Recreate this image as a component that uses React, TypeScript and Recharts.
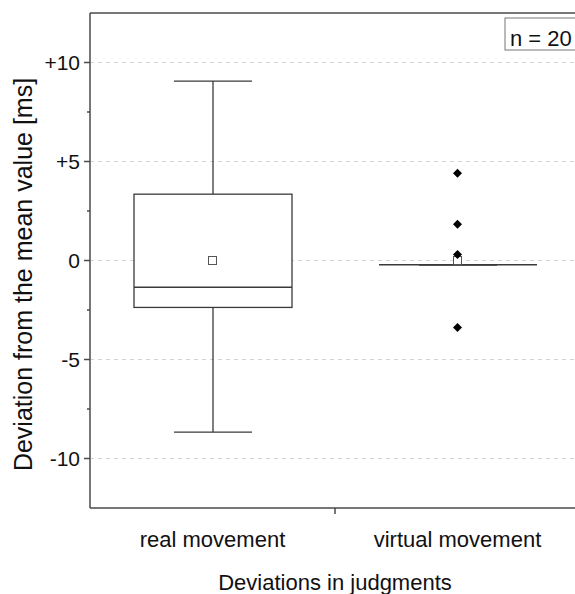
import React from 'react';
import { ComposedChart, Bar, Line, XAxis, YAxis, CartesianGrid, ReferenceLine } from 'recharts';

// Box-plot statistics per condition (deviation from the mean, ms)
const categories = ['real movement', 'virtual movement'];
const whiskerLow = [-8.67, -0.22];
const quartileLow = [-2.37, -0.22];
const medians = [-1.35, -0.22];
const quartileHigh = [3.35, -0.22];
const whiskerHigh = [9.06, -0.22];
const means = [0, 0];
const outliers: number[][] = [[], [4.41, 1.83, 0.3, -3.38]];
const yTicks = [-10, -5, 0, 5, 10];
const yMinorTicks = [-7.5, -2.5, 2.5, 7.5];
const yDomain = [-12.5, 12.5];
const sampleSize = 20;

const maxOutliers = Math.max(...outliers.map((o) => o.length));
const outlierKeys = Array.from({ length: maxOutliers }, (_, k) => `o${k}`);

const data = categories.map((name, i) => {
  const row: Record<string, any> = {
    name,
    lo: whiskerLow[i],
    q1: quartileLow[i],
    med: medians[i],
    q3: quartileHigh[i],
    hi: whiskerHigh[i],
    mean: means[i],
  };
  outliers[i].forEach((v, k) => {
    row[`o${k}`] = v;
  });
  return row;
});

const FONT = '"Liberation Sans", Arial, sans-serif';
const INK = '#3a3a3a';
const AXIS = '#4a4a4a';

const fmtY = (v: number) => (v > 0 ? `+${v}` : `${v}`);

const WhiskerShape = (p: any) => {
  const { x, y, width, height } = p;
  if (![x, y, width, height].every(Number.isFinite)) return <g />;
  const cx = x + width / 2;
  return (
    <g stroke={INK} strokeWidth={1.3}>
      <line x1={cx} x2={cx} y1={y} y2={y + height} />
      <line x1={x} x2={x + width} y1={y} y2={y} />
      <line x1={x} x2={x + width} y1={y + height} y2={y + height} />
    </g>
  );
};

const BoxShape = (p: any) => {
  const { x, y, width, height } = p;
  if (![x, y, width, height].every(Number.isFinite)) return <g />;
  return <rect x={x} y={y} width={width} height={height} fill="#fff" stroke={INK} strokeWidth={1.3} />;
};

const MedianShape = (p: any) => {
  const { x, y, width, height } = p;
  if (![x, y, width].every(Number.isFinite)) return <g />;
  const yy = y + (Number.isFinite(height) ? height / 2 : 0);
  return <line x1={x} x2={x + width} y1={yy} y2={yy} stroke={INK} strokeWidth={1.5} />;
};

const MeanDot = (p: any) => {
  const { cx, cy } = p;
  if (!Number.isFinite(cx) || !Number.isFinite(cy)) return <g key={p.key} />;
  return <rect key={p.key} x={cx - 4} y={cy - 4} width={8} height={8} fill="#fff" stroke="#555" strokeWidth={1} />;
};

const DiamondDot = (p: any) => {
  const { cx, cy } = p;
  if (!Number.isFinite(cx) || !Number.isFinite(cy)) return <g key={p.key} />;
  return (
    <path
      key={p.key}
      d={`M${cx},${cy - 4.5} L${cx + 4.5},${cy} L${cx},${cy + 4.5} L${cx - 4.5},${cy} Z`}
      fill="#000"
    />
  );
};

// y ticks: tick line drawn here (major 6px, minor 3px); text only on majors
const Y_TICK_SIZE = 6;
const Y_TICK_MARGIN = 4;
const YTick = (p: any) => {
  const v = p.payload.value;
  const axisX = p.x + Y_TICK_SIZE + Y_TICK_MARGIN;
  const major = yTicks.includes(v);
  const len = major ? Y_TICK_SIZE : 3;
  return (
    <g>
      <line x1={axisX - len} x2={axisX} y1={p.y} y2={p.y} stroke={AXIS} strokeWidth={1.5} />
      {major && (
        <text x={p.x} y={p.y} dy={7} textAnchor="end" fontSize={21} fontFamily={FONT} fill="#111">
          {fmtY(v)}
        </text>
      )}
    </g>
  );
};

// category label, plus a short tick on the boundary to the previous band
const XTick = (p: any) => {
  const half = Number(p.payload?.offset) || 0;
  const idx = categories.indexOf(p.payload.value);
  return (
    <g>
      {idx > 0 && half > 0 && (
        <line x1={p.x - half} x2={p.x - half} y1={p.y} y2={p.y + 6} stroke={AXIS} strokeWidth={1.5} />
      )}
      <text x={p.x} y={p.y + 39} textAnchor="middle" fontSize={22} fontFamily={FONT} fill="#111">
        {p.payload.value}
      </text>
    </g>
  );
};

const XTitle = (p: any) => {
  const vb = p.viewBox;
  return (
    <text x={vb.x + vb.width / 2} y={vb.y + 82} textAnchor="middle" fontSize={22} fontFamily={FONT} fill="#111">
      Deviations in judgments
    </text>
  );
};

const YTitle = (p: any) => {
  const vb = p.viewBox;
  const x = vb.x + 32;
  const y = vb.y + vb.height / 2 + 14;
  return (
    <text
      x={x}
      y={y}
      transform={`rotate(-90 ${x} ${y})`}
      textAnchor="middle"
      fontSize={25}
      fontFamily={FONT}
      fill="#111"
    >
      Deviation from the mean value [ms]
    </text>
  );
};

const SampleBox = (p: any) => {
  const vb = p.viewBox;
  const x = vb.x + 415;
  const y = vb.y + 5;
  return (
    <g>
      <rect x={x} y={y} width={100} height={32} fill="#fff" stroke="#777" strokeWidth={1} />
      <text x={x + 5} y={y + 28} fontSize={22} fontFamily={FONT} fill="#111">
        {`n = ${sampleSize}`}
      </text>
    </g>
  );
};

export default function App() {
  return (
    <div style={{ position: 'fixed', left: 0, top: 0, width: 575, height: 594, overflow: 'hidden', background: '#fff' }}>
      <ComposedChart width={600} height={594} data={data} margin={{ top: 13, right: 20, bottom: 0, left: 0 }}>
        <CartesianGrid
          horizontal
          vertical={false}
          horizontalValues={yTicks}
          stroke="#d4d4d4"
          strokeDasharray="4 4"
        />

        <XAxis
          dataKey="name"
          xAxisId={0}
          height={86}
          interval={0}
          tickSize={0}
          tickMargin={0}
          tickLine={false}
          axisLine={{ stroke: AXIS, strokeWidth: 1.5 }}
          tick={XTick}
          label={XTitle}
        />
        <XAxis xAxisId="w" dataKey="name" hide height={0} />
        <XAxis xAxisId="b" dataKey="name" hide height={0} />
        <XAxis xAxisId="m" dataKey="name" hide height={0} />

        <YAxis
          yAxisId={0}
          type="number"
          domain={yDomain}
          ticks={[...yTicks, ...yMinorTicks]}
          interval={0}
          width={90}
          tickSize={Y_TICK_SIZE}
          tickMargin={Y_TICK_MARGIN}
          tickLine={false}
          axisLine={{ stroke: AXIS, strokeWidth: 1.5 }}
          tick={YTick}
          label={YTitle}
          allowDataOverflow
        />

        <ReferenceLine y={yDomain[1]} stroke={AXIS} strokeWidth={1.5} label={SampleBox} />

        <Bar xAxisId="w" dataKey={(d: any) => [d.lo, d.hi]} barSize={78} shape={WhiskerShape} isAnimationActive={false} />
        <Bar xAxisId="b" dataKey={(d: any) => [d.q1, d.q3]} barSize={158} shape={BoxShape} isAnimationActive={false} />
        <Bar xAxisId="m" dataKey={(d: any) => [d.med, d.med]} barSize={158} shape={MedianShape} isAnimationActive={false} />

        <Line dataKey="mean" stroke="none" dot={MeanDot} activeDot={false} isAnimationActive={false} />
        {outlierKeys.map((k) => (
          <Line key={k} dataKey={k} stroke="none" dot={DiamondDot} activeDot={false} isAnimationActive={false} />
        ))}
      </ComposedChart>
    </div>
  );
}
